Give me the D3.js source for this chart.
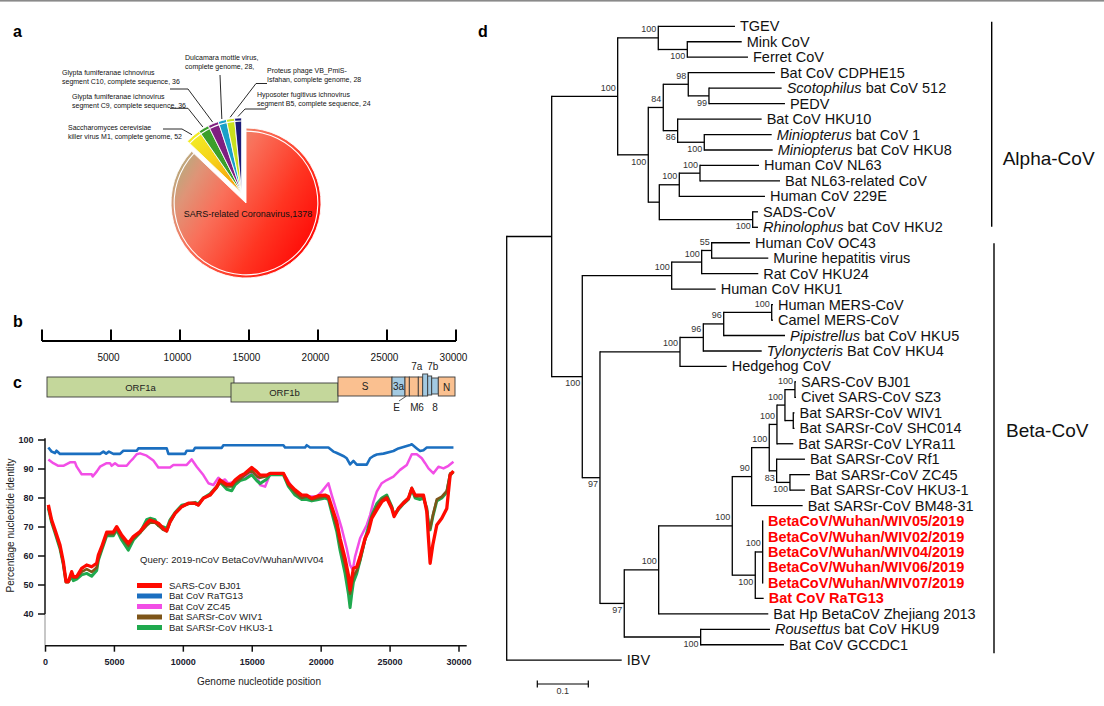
<!DOCTYPE html>
<html><head><meta charset="utf-8">
<script src="https://cdn.jsdelivr.net/npm/d3@7"></script>
<style>
html,body{margin:0;padding:0;background:#fff;}
svg{display:block;font-family:"Liberation Sans",Arial,sans-serif;}
</style></head><body>
<svg id="fig" width="1104" height="706"></svg>
<script>
// ================= DATA =================
// Panel a: BLAST hit counts
const pieNames = ["SARS-related Coronavirus","Saccharomyces cerevisiae killer virus M1","Glypta fumiferanae ichnovirus segment C9","Glypta fumiferanae ichnovirus segment C10","Dulcamara mottle virus","Proteus phage VB_PmiS-Isfahan","Hyposoter fugitivus ichnovirus segment B5"];
const pieValues = [1378,52,36,36,28,28,24];
const pieLabelLines = [
  ["SARS-related Coronavirus,1378"],
  ["Saccharomyces cerevisiae","killer virus M1, complete genome, 52"],
  ["Glypta fumiferanae ichnovirus","segment C9, complete sequence, 36"],
  ["Glypta fumiferanae ichnovirus","segment C10, complete sequence, 36"],
  ["Dulcamara mottle virus,","complete genome, 28,"],
  ["Proteus phage VB_PmiS-","Isfahan, complete genome, 28"],
  ["Hyposoter fugitivus ichnovirus","segment B5, complete sequence, 24"]
];
// Panel b: genome ruler
const genomeTicks = [0,5000,10000,15000,20000,25000,30000];
const genomeTickLabels = ["","5000","10000","15000","20000","25000","30000"];
// Panel c: genes
const geneNames = ["ORF1a","ORF1b","S","3a","E","M","6","7a","7b","8","N"];
const geneStart = [362,13696,21449,25362,26304,26618,27268,27587,27949,28239,28717];
const geneEnd   = [13913,21449,25362,26304,26618,27268,27587,27949,28239,28717,29928];
const geneKind  = ["orf1","orf1","struct","acc","struct","struct","struct","acc","acc","acc","struct"];
// Panel c: similarity plot
const identityTicksX = [0,5000,10000,15000,20000,25000,30000];
const identityTicksY = [40,50,60,70,80,90,100];
const lowPos = [206,447,689,1052,1294,1488,1657,1899,2020,2262,2624,2987,3350,3713,3834,4076,4438,4922,5164,5527,6011,6374,6857,7341,7583,7946,8188,8551,8793,9035,9398,9882,10366,10849,11091,11454,11938,12422,12664,13148,13511,13753,14115,14478,14961,15324,15566,16050,16292,17260,17622,18106,18590,18953,19315,19799,20283,20525,20767,21130,21372,21735,21977,22098,22219,22340,22582,22824,23187,23429,23671,24034,24397,24760,25123,25292,25606,25969,26332,26574,26816,27179,27421,27663,27784,27905,28098,28389,28752,29115,29357,29598];
const sarsBJ01 = [77.6,72.4,69,63.8,58,51.1,51.1,54.6,52.9,52.9,55.7,56.9,56.3,57.5,60.3,63.2,68.2,68.2,70.1,67.2,64.4,66.7,68.4,71.3,72.4,71.8,71.3,69.5,68.6,71.8,74.7,77,78.2,78.2,77.6,79.9,81,83.9,86.2,84.7,84.7,86.2,87.6,88.5,90.5,89.1,87.9,87.9,88.5,88.5,85.1,82.8,81,81,79.9,80.8,81,80.5,77,71.8,66.1,59.2,53.4,48.3,52.3,55.7,56.3,59.8,66.1,68.4,73,75.9,78.7,79.9,76.4,73.6,76.4,78.2,79.9,83.3,81,81,81,75.3,66.1,57.5,63.8,70.7,73,76.4,87.9,89.3];
const wiv1 = [77,72,68.5,63,57.5,51.5,51.5,53.5,52.5,52.5,54.5,55.5,54.5,56,59,62.5,67.5,67.5,69.5,66.5,63.5,66,68,70.5,71.5,71.5,70.5,69,68.5,71.5,74.5,77,78,78,77.5,80,81,83.5,85.5,84,84,85.5,86.5,88,89.5,87.5,87,87.5,88.5,88.5,84.5,82,80,80.5,79.5,80,80.5,80,76,70,64,57,51,47,50,53,55,58.5,65.5,69,73.5,77,79.5,80.5,77,74,76.5,78.5,80,83.5,80.5,80.5,80.5,76,71,69.5,74,79.5,80.5,82.5,88.5,89];
const hku3 = [76.5,71.5,68,62.5,57,51,51,53,51.5,52,53.5,54,53,55,58.5,62,67,67,69,65.5,62,65.5,68,72.5,73,72.5,70.5,70,69.5,72.5,75,77.5,78,78.5,78,80,81.5,84,85.5,83,82.5,84.5,86,86.5,88,86,85,86.5,88,88,84,81,79.5,79.5,79,79.5,80,79.5,75,68.5,62,54,47,42.2,47,51,54,58.5,66,70,74,78,80,81,77,74,76,78,79.5,83,80,79.5,80,76.5,71.5,69,73.5,79,80,82,88,89];
const ratg13Pos = [206,447,689,800,1052,2000,3000,3955,4200,4400,4600,4923,5406,5648,6616,6736,8795,8916,10123,10245,10729,10849,12785,12903,14115,17260,17380,18832,18953,19194,20525,20888,21100,21372,21600,21856,22098,22340,22582,23308,23550,23792,24034,24518,25243,25606,26453,26574,26937,27179,27421,27663,29598];
const ratg13 = [97.4,96,95.5,96.3,95.2,95.2,95.2,95.2,96,95.3,96,95.2,95.2,96.3,96.3,97.1,97.1,95.2,95.2,96.3,96.3,97.3,97.3,98.2,98.2,98.2,97.4,97.4,98.2,97.4,97.4,96,95.6,95,94.5,93.7,91.6,92.8,91.5,91.5,93.7,94.5,95,95.3,96.2,97.1,98.3,98.5,97.1,96.2,96.5,97.4,97.4];
const zc45Pos = [206,568,931,1294,1778,2141,2262,2624,2987,3350,3423,3713,3955,4197,4438,4680,4801,5043,5285,5890,6132,6374,6616,6857,7341,7825,8188,9035,9277,10245,10608,10971,11454,11817,12180,12543,12785,13027,13269,13632,14115,14599,14961,15324,15566,15929,16292,17260,17502,17985,18469,19678,20041,20525,20767,21130,21493,21856,22098,22291,22461,22824,23308,23550,23792,24034,24397,24760,25243,25727,26211,26574,26937,27300,27542,27784,28147,28510,28873,29236,29598];
const zc45 = [93.3,92,91.1,91.1,92.3,92.3,90.8,88.2,88.2,88.2,87.4,89.1,90.8,91.4,92,92,91.1,92,91.1,91.1,92.5,93.7,95.1,95.4,94.6,92.9,90.5,90.5,91.4,91.4,93.3,90.8,87.9,85.1,84.5,87,85.9,86.4,85,85.5,87,87.5,88.5,87.9,84.5,83.9,88.2,88.2,86.8,82.8,80.5,80.5,82.2,85.1,81,75.3,69.5,62.6,56.9,55.2,59.8,66.1,70.7,74.1,78.7,82.2,85.1,86.2,87.4,89.7,91.4,95.1,95.1,93.7,92,90.2,88.5,90.8,90.2,91.1,92.5];
const seriesNames = ["SARS-CoV BJ01","Bat CoV RaTG13","Bat CoV ZC45","Bat SARSr-CoV WIV1","Bat SARSr-CoV HKU3-1"];
const queryLabel = "Query: 2019-nCoV BetaCoV/Wuhan/WIV04";
// Panel d: phylogeny (Newick, branch lengths in substitutions/site, bootstrap as node labels)
const cladeSARS = "(((((SARS-CoV BJ01:0.002,Civet SARS-CoV SZ3:0.002)100:0.0196,(Bat SARSr-CoV WIV1:0.0024,Bat SARSr-CoV SHC014:0.0024):0.0163)100:0.0157,Bat SARSr-CoV LYRa11:0.032)100:0.0151,(Bat SARSr-CoV Rf1:0.0555,(Bat SARSr-CoV ZC45:0.0392,Bat SARSr-CoV HKU3-1:0.0294)100:0.0261)83:0.0145)100:0.0345,Bat SARSr-CoV BM48-31:0.1)90:0.038";
const cladeNCoV = "((BetaCoV/Wuhan/WIV05/2019:0.0006,BetaCoV/Wuhan/WIV02/2019:0.0006,BetaCoV/Wuhan/WIV04/2019:0.0006,BetaCoV/Wuhan/WIV06/2019:0.0006,BetaCoV/Wuhan/WIV07/2019:0.0006)100:0.0145,Bat CoV RaTG13:0.0165)100:0.0451";
const cladeSarbeco = "((" + cladeSARS + "," + cladeNCoV + ")100:0.1443,Bat Hp BetaCoV Zhejiang 2013:0.2149)100:0.0675";
const cladeNobeco = "(Rousettus bat CoV HKU9:0.1359,Bat CoV GCCDC1:0.1633)100:0.1498";
const cladeMerbeco = "((((Human MERS-CoV:0.0025,Camel MERS-CoV:0.0025)100:0.0941,Pipistrellus bat CoV HKU5:0.1202)96:0.04,Tylonycteris Bat CoV HKU4:0.1145)96:0.0457,Hedgehog CoV:0.0916)100:0.1569";
const cladeEmbeco = "(((Human CoV OC43:0.0751,Murine hepatitis virus:0.111)55:0.0196,Rat CoV HKU24:0.111)100:0.0588,Human CoV HKU1:0.0863)100:0.1753";
const cladeBeta = "(" + cladeEmbeco + ",(" + cladeMerbeco + ",(" + cladeSarbeco + "," + cladeNobeco + ")97:0.0476)97:0.0347)100:0.06";
const cladeAlpha = "((TGEV:0.1504,(Mink CoV:0.1067,Ferret CoV:0.119)100:0.0569)100:0.0796,(((Bat CoV CDPHE15:0.17,(Scotophilus bat CoV 512:0.1425,PEDV:0.149)99:0.0406)98:0.049,(Bat CoV HKU10:0.1647,(Miniopterus bat CoV 1:0.1322,Miniopterus bat CoV HKU8:0.1341)100:0.0522)86:0.0282)84:0.0294,(((Human CoV NL63:0.1157,Bat NL63-related CoV:0.1569)100:0.0406,Human CoV 229E:0.168)100:0.0392,(SADS-CoV:0.0104,Rhinolophus bat CoV HKU2:0.0104)100:0.1831):0.0216)100:0.06)100:0.1294";
const treeNewick = "((" + cladeAlpha + "," + cladeBeta + "):0.0882,IBV:0.2255);";
const highlightLeaves = ["BetaCoV/Wuhan/WIV05/2019","BetaCoV/Wuhan/WIV02/2019","BetaCoV/Wuhan/WIV04/2019","BetaCoV/Wuhan/WIV06/2019","BetaCoV/Wuhan/WIV07/2019","Bat CoV RaTG13"];
const italicGenera = ["Scotophilus","Miniopterus","Rhinolophus","Pipistrellus","Tylonycteris","Rousettus"];
const cladeNames = ["Alpha-CoV","Beta-CoV"];
const scaleBarValue = 0.1;

// ================= DRAWING =================
const svg = d3.select("#fig");
svg.append("rect").attr("x",0).attr("y",0).attr("width",1104).attr("height",1.6).attr("fill","#8a8a8a");
const panelLab = (t,x,y)=>svg.append("text").attr("x",x).attr("y",y).text(t)
  .attr("font-size",16).attr("font-weight","bold").attr("fill","#000");
panelLab("a",13,37); panelLab("b",13,327); panelLab("c",13,388); panelLab("d",478,37);

const defs = svg.append("defs");

// ---------- Panel a: pie ----------
(function(){
  const cx=246, cy=203, R=75, explode=11;
  const pieColors = ["url(#gSars)","url(#gSacc)","#3b9f2b","#7f1f80","#19a0c9","#c9e11e","#1c1c78"];
  const gS = defs.append("linearGradient").attr("id","gSars").attr("gradientUnits","userSpaceOnUse")
    .attr("x1",-76).attr("y1",-30).attr("x2",70).attr("y2",58);
  [[0,"#b3ad7e"],[0.14,"#df9477"],[0.33,"#f9705a"],[0.65,"#ff3522"],[1,"#ff0000"]]
    .forEach(s=>gS.append("stop").attr("offset",s[0]).attr("stop-color",s[1]));
  const gY = defs.append("linearGradient").attr("id","gSacc").attr("gradientUnits","userSpaceOnUse")
    .attr("x1",-48).attr("y1",-57).attr("x2",-5).attr("y2",-5);
  [[0,"#f2ec22"],[0.45,"#f6d21a"],[1,"#f79a08"]].forEach(s=>gY.append("stop").attr("offset",s[0]).attr("stop-color",s[1]));

  const arcs = d3.pie().sort(null).value(d=>d)(pieValues);
  const midSmall = (arcs[1].startAngle + 2*Math.PI)/2;
  const ox = explode*Math.sin(midSmall), oy = -explode*Math.cos(midSmall);
  const g = svg.append("g").attr("transform",`translate(${cx},${cy})`);
  const arcFn = d3.arc().innerRadius(0).outerRadius(R);
  const ringFn = d3.arc().innerRadius(R-3.7).outerRadius(R-2.6);
  const tipFn = d3.arc().innerRadius(R+1.5).outerRadius(R+1.5);
  arcs.forEach((a,i)=>{
    const gg = g.append("g");
    if(i>0) gg.attr("transform",`translate(${ox},${oy})`);
    gg.append("path").attr("d",arcFn(a)).attr("fill",pieColors[i]).attr("stroke","#fff").attr("stroke-width",0.9);
    gg.append("path").attr("d",ringFn(a)).attr("fill","#fff");
  });
  g.append("text").attr("x",2).attr("y",14).attr("text-anchor","middle")
    .attr("font-size",9).attr("fill","#111").text(pieLabelLines[0][0]);
  const layout = [null,
    {tx:68,ty:129.5,pts:[[182,129],[163,129]]},
    {tx:72,ty:98.5,pts:[[188,108.3],[170,108.3]]},
    {tx:62,ty:74.5,pts:[[188,89],[170,89]]},
    {tx:185,ty:60,pts:[[220,75]]},
    {tx:267,ty:72.5,pts:[[256,83.5],[267,83.5]]},
    {tx:257,ty:96.5,pts:[[245,109],[266,109]]}];
  for(let i=1;i<arcs.length;i++){
    const L = layout[i];
    const c = tipFn.centroid(arcs[i]);
    const p0 = [cx+ox+c[0], cy+oy+c[1]];
    svg.append("path").attr("d",d3.line()([p0].concat(L.pts))).attr("fill","none")
      .attr("stroke","#111").attr("stroke-width",0.9);
    const t = svg.append("text").attr("font-size",7).attr("fill","#111");
    pieLabelLines[i].forEach((ln,k)=>t.append("tspan").attr("x",L.tx).attr("y",L.ty+k*9).text(ln));
  }
})();

// ---------- Panel b: genome ruler ----------
const gx = d3.scaleLinear().domain([0,30000]).range([42,456]);
(function(){
  defs.append("clipPath").attr("id","clipB").append("rect").attr("x",0).attr("y",300).attr("width",473).attr("height",80);
  const g = svg.append("g").attr("clip-path","url(#clipB)");
  g.append("line").attr("x1",gx(0)).attr("x2",gx(30000)).attr("y1",341).attr("y2",341)
    .attr("stroke","#000").attr("stroke-width",2);
  genomeTicks.forEach((t,i)=>{
    g.append("line").attr("x1",gx(t)).attr("x2",gx(t)).attr("y1",341).attr("y2",329.5)
      .attr("stroke","#000").attr("stroke-width",2);
    g.append("text").attr("x",gx(t)-2.5).attr("y",360.5).attr("text-anchor","middle")
      .attr("font-size",10).attr("fill","#111").text(genomeTickLabels[i]);
  });
})();

// ---------- Panel c: gene map ----------
(function(){
  const fills = {orf1:"#c4d79b", struct:"#fac090", acc:"#a3cae2"};
  const rowY = {ORF1a:[377,397],ORF1b:[383,402],S:[377,396],"3a":[377,396],E:[377,396],M:[377,396],"6":[377,396],"7a":[374,396],"7b":[376,395],"8":[378,394],N:[377,396]};
  const lab = {ORF1a:{dx:0,y:391,fs:9.5},ORF1b:{dx:0,y:396,fs:9.5},S:{dx:0,y:390,fs:10},"3a":{dx:0,y:390,fs:10},
    N:{dx:0,y:390.5,fs:10},E:{dx:-10.5,y:411,fs:10},M:{dx:0.5,y:411,fs:10},"6":{dx:0.5,y:411,fs:10},
    "7a":{dx:-8.5,y:370,fs:10},"7b":{dx:3,y:370,fs:10},"8":{dx:0,y:411,fs:10}};
  geneNames.forEach((n,i)=>{
    const x0=gx(geneStart[i]), x1=gx(geneEnd[i]), yy=rowY[n];
    svg.append("rect").attr("x",x0).attr("y",yy[0]).attr("width",x1-x0).attr("height",yy[1]-yy[0])
      .attr("fill",fills[geneKind[i]]).attr("stroke","#3a3a3a").attr("stroke-width",0.9);
  });
  geneNames.forEach((n,i)=>{
    const xm=(gx(geneStart[i])+gx(geneEnd[i]))/2, L=lab[n];
    svg.append("text").attr("x",xm+L.dx).attr("y",L.y).attr("text-anchor","middle")
      .attr("font-size",L.fs).attr("fill","#222").text(n);
  });
  const ei = geneNames.indexOf("E");
  svg.append("line").attr("x1",gx(geneStart[ei])-6).attr("y1",401).attr("x2",gx(geneStart[ei])+1.5).attr("y2",396)
    .attr("stroke","#333").attr("stroke-width",0.8);
})();

// ---------- Panel c: similarity plot ----------
(function(){
  const x = d3.scaleLinear().domain([0,30000]).range([45.5,459]);
  const y = d3.scaleLinear().domain([29,100]).range([645.9,440]);
  const axX = 45, axY = 645.7;
  svg.append("line").attr("x1",axX).attr("x2",axX).attr("y1",y(100.6)).attr("y2",y(40)).attr("stroke","#111").attr("stroke-width",1.5);
  svg.append("line").attr("x1",axX).attr("x2",axX).attr("y1",y(40)).attr("y2",axY).attr("stroke","#b5b5b5").attr("stroke-width",1.5);
  identityTicksY.forEach(t=>{
    svg.append("line").attr("x1",axX-7).attr("x2",axX).attr("y1",y(t)).attr("y2",y(t)).attr("stroke","#111").attr("stroke-width",1.5);
    svg.append("text").attr("x",33.5).attr("y",y(t)+3.2).attr("text-anchor","end").attr("font-size",9)
      .attr("font-weight","bold").attr("fill","#1a1a2e").text(t);
  });
  svg.append("line").attr("x1",axX).attr("x2",466.7).attr("y1",axY).attr("y2",axY).attr("stroke","#111").attr("stroke-width",1.5);
  identityTicksX.forEach(t=>{
    svg.append("line").attr("x1",x(t)).attr("x2",x(t)).attr("y1",axY).attr("y2",axY+6).attr("stroke","#111").attr("stroke-width",1.5);
    svg.append("text").attr("x",x(t)).attr("y",664.5).attr("text-anchor","middle").attr("font-size",9)
      .attr("font-weight","bold").attr("fill","#1a1a2e").text(t);
  });
  svg.append("text").attr("transform","translate(13.5,525.5) rotate(-90)").attr("text-anchor","middle")
    .attr("font-size",10).attr("fill","#222").text("Percentage nucleotide identity");
  svg.append("text").attr("x",259).attr("y",684.5).attr("text-anchor","middle")
    .attr("font-size",10).attr("fill","#222").text("Genome nucleotide position");

  const line = d3.line().x(d=>x(d[0])).y(d=>y(d[1]));
  const zip = (p,v)=>p.map((q,i)=>[q,v[i]]);
  const series = [
    {name:seriesNames[1], pts:zip(ratg13Pos,ratg13), color:"#1b6fc0", w:2.6, order:1},
    {name:seriesNames[2], pts:zip(zc45Pos,zc45), color:"#f24ee6", w:2.5, order:2},
    {name:seriesNames[4], pts:zip(lowPos,hku3), color:"#1fa94e", w:3, order:4},
    {name:seriesNames[3], pts:zip(lowPos,wiv1), color:"#7d5518", w:2.6, order:3},
    {name:seriesNames[0], pts:zip(lowPos,sarsBJ01), color:"#ff0a00", w:3.3, order:0}
  ];
  series.forEach(s=>svg.append("path").attr("d",line(s.pts)).attr("fill","none")
    .attr("stroke",s.color).attr("stroke-width",s.w).attr("stroke-linejoin","round"));
  svg.append("text").attr("x",140).attr("y",563.3).attr("font-size",9.5).attr("fill","#222").text(queryLabel);
  series.slice().sort((a,b)=>a.order-b.order).forEach((s,i)=>{
    const yy = 585.5 + i*10.5;
    svg.append("line").attr("x1",137).attr("x2",162).attr("y1",yy).attr("y2",yy).attr("stroke",s.color).attr("stroke-width",5);
    svg.append("text").attr("x",169).attr("y",yy+3.4).attr("font-size",9.5).attr("fill","#222").text(s.name);
  });
})();

// ---------- Panel d: tree ----------
(function(){
  function parseNewick(s){
    let i=0;
    function node(){
      const n={name:"",len:0,support:"",children:null};
      if(s[i]==="("){ i++; n.children=[node()]; while(s[i]===","){ i++; n.children.push(node()); } i++; }
      let lab=""; while(i<s.length && !",():;".includes(s[i])) lab+=s[i++];
      if(n.children) n.support=lab.trim(); else n.name=lab.trim();
      if(s[i]===":"){ i++; let num=""; while(i<s.length && !",();".includes(s[i])) num+=s[i++]; n.len=+num; }
      return n;
    }
    return node();
  }
  const root = d3.hierarchy(parseNewick(treeNewick), d=>d.children);
  root.each(n=>{ n.dist = n.parent ? n.parent.dist + n.data.len : 0; });
  const leaves = root.leaves();
  const x = d3.scaleLinear().domain([0,1]).range([506.7,1016.7]);
  const yL = d3.scaleLinear().domain([0,leaves.length-1]).range([26.3,660.2]);
  leaves.forEach((l,i)=>l.y=yL(i));
  root.eachAfter(n=>{ if(n.children) n.y=(n.children[0].y+n.children[n.children.length-1].y)/2; });
  const g = svg.append("g").attr("stroke","#000").attr("stroke-width",1.3).attr("fill","none");
  root.each(n=>{
    if(n.children) g.append("line").attr("x1",x(n.dist)).attr("x2",x(n.dist))
      .attr("y1",n.children[0].y).attr("y2",n.children[n.children.length-1].y).attr("stroke-linecap","square");
    if(n.parent) g.append("line").attr("x1",x(n.parent.dist)).attr("x2",x(n.dist)).attr("y1",n.y).attr("y2",n.y);
  });
  root.each(n=>{
    if(n.children && n.parent && n.data.support){
      const first = n.parent.children[0]===n;
      svg.append("text").attr("x",x(n.dist)-2).attr("y",first? n.y-5.5 : n.y+9.8)
        .attr("text-anchor","end").attr("font-size",9).attr("fill","#333").text(n.data.support);
    }
  });
  leaves.forEach(l=>{
    const nm = l.data.name, hl = highlightLeaves.includes(nm);
    const t = svg.append("text").attr("x",x(l.dist)+5).attr("y",l.y+5).attr("font-size",14.5)
      .attr("fill",hl?"#ff0000":"#111").attr("font-weight",hl?"bold":"normal");
    const first = nm.split(" ")[0];
    if(italicGenera.includes(first)){
      t.append("tspan").attr("font-style","italic").text(first);
      t.append("tspan").text(nm.slice(first.length));
    } else t.text(nm);
  });
  const yOf = nm=>leaves.find(l=>l.data.name===nm).y;
  const bars = [
    {x:991.7, y0:yOf("TGEV")-4.6, y1:yOf("Rhinolophus bat CoV HKU2")-0.6, tx:1002.7, ty:165},
    {x:994, y0:yOf("Human CoV OC43")+0.6, y1:yOf("Bat CoV GCCDC1")+8.6, tx:1006, ty:437}
  ];
  bars.forEach((b,i)=>{
    svg.append("line").attr("x1",b.x).attr("x2",b.x).attr("y1",b.y0).attr("y2",b.y1).attr("stroke","#000").attr("stroke-width",1.4);
    svg.append("text").attr("x",b.tx).attr("y",b.ty).attr("font-size",19).attr("fill","#111").text(cladeNames[i]);
  });
  const sx0 = 537.3, sx1 = sx0 + (x(scaleBarValue)-x(0)), sy = 684;
  const sb = svg.append("g").attr("stroke","#000").attr("stroke-width",1.2);
  sb.append("line").attr("x1",sx0).attr("x2",sx1).attr("y1",sy).attr("y2",sy);
  sb.append("line").attr("x1",sx0).attr("x2",sx0).attr("y1",sy-3.5).attr("y2",sy+3.5);
  sb.append("line").attr("x1",sx1).attr("x2",sx1).attr("y1",sy-3.5).attr("y2",sy+3.5);
  svg.append("text").attr("x",(sx0+sx1)/2).attr("y",694).attr("text-anchor","middle").attr("font-size",9).attr("fill","#333").text(String(scaleBarValue));
})();
</script>
</body></html>
